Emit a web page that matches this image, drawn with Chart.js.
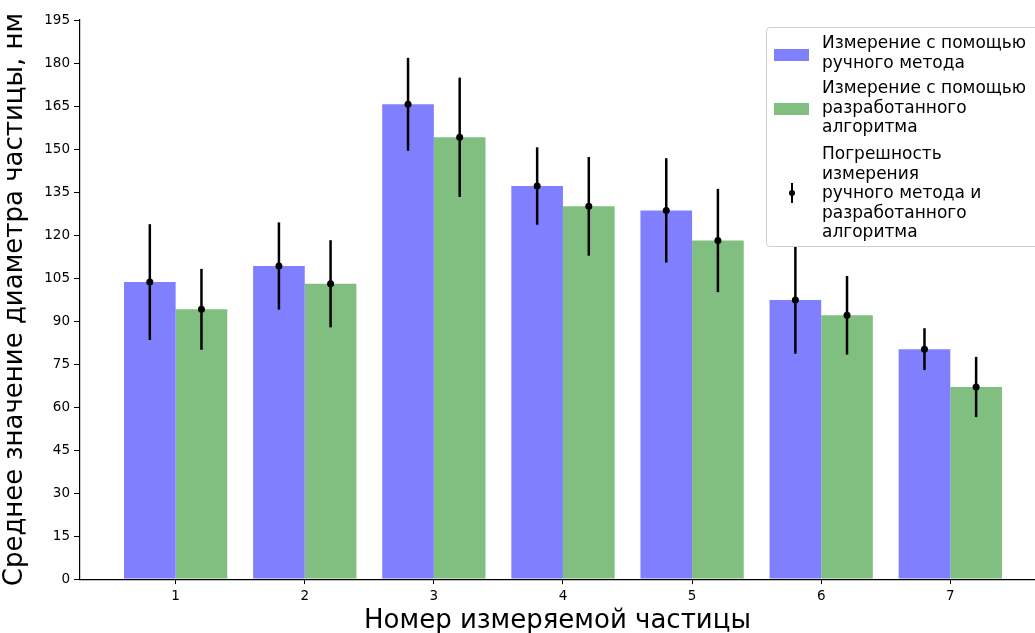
<!DOCTYPE html>
<html>
<head>
<meta charset="utf-8">
<script src="https://cdn.jsdelivr.net/npm/chart.js@4.4.0/dist/chart.umd.min.js"></script>
<style>
  html, body { margin: 0; padding: 0; background: #fff; }
  #wrap { position: relative; width: 1035px; height: 633px; overflow: hidden; }
  #legend {
    position: absolute; left: 766px; top: 27px; width: 290px; height: 220px;
    border: 1px solid #d0d0d0; border-radius: 4px; background: rgba(255,255,255,0.8);
    font-family: "DejaVu Sans", sans-serif; font-size: 17px; line-height: 19.5px; color: #000;
    box-sizing: border-box;
  }
  .patch { position: absolute; left: 7px; width: 35px; height: 12px; }
  .txt { position: absolute; left: 55px; white-space: nowrap; }
</style>
</head>
<body>
<div id="wrap">
  <canvas id="chart" width="1035" height="633"></canvas>
  <div id="legend">
    <div class="patch" style="top:21px;background:#8080ff"></div>
    <div class="txt" style="top:5px">Измерение с помощью<br>ручного метода</div>
    <div class="patch" style="top:75px;background:#80bf80"></div>
    <div class="txt" style="top:50px">Измерение с помощью<br>разработанного<br>алгоритма</div>
    <div class="txt" style="top:116px">Погрешность<br>измерения<br>ручного метода и<br>разработанного<br>алгоритма</div>
    <svg style="position:absolute;left:19px;top:155px" width="12" height="20">
      <line x1="6" y1="0" x2="6" y2="20" stroke="#000" stroke-width="2"/>
      <circle cx="6" cy="10" r="3" fill="#000"/>
    </svg>
  </div>
</div>
<script>
const particles = [1, 2, 3, 4, 5, 6, 7];
const manualMeans = [103.6, 109.2, 165.6, 137.1, 128.6, 97.3, 80.2];
const manualErr = [20.2, 15.2, 16.2, 13.5, 18.2, 18.7, 7.3];
const algoMeans = [94.1, 103.0, 154.1, 130.0, 118.1, 92.0, 67.0];
const algoErr = [14.1, 15.2, 20.8, 17.2, 18.0, 13.7, 10.5];
const yTicks = [0, 15, 30, 45, 60, 75, 90, 105, 120, 135, 150, 165, 180, 195];

// чёрные вертикальные погрешности с точкой в центре
const errorBars = {
  id: 'errorBars',
  afterDatasetsDraw(chart) {
    const ctx = chart.ctx;
    const y = chart.scales.y;
    chart.data.datasets.forEach((ds, i) => {
      const meta = chart.getDatasetMeta(i);
      meta.data.forEach((bar, j) => {
        const v = ds.data[j].y, e = ds.errors[j];
        ctx.save();
        ctx.strokeStyle = '#000';
        ctx.lineWidth = 2.5;
        ctx.beginPath();
        ctx.moveTo(bar.x, y.getPixelForValue(v + e));
        ctx.lineTo(bar.x, y.getPixelForValue(v - e));
        ctx.stroke();
        ctx.fillStyle = '#000';
        ctx.beginPath();
        ctx.arc(bar.x, y.getPixelForValue(v), 3.5, 0, Math.PI * 2);
        ctx.fill();
        ctx.restore();
      });
    });
  }
};

const font = { family: 'DejaVu Sans', size: 13.5 };

new Chart(document.getElementById('chart'), {
  type: 'bar',
  data: {
    datasets: [
      {
        label: 'Измерение с помощью ручного метода',
        data: particles.map((p, i) => ({ x: p, y: manualMeans[i] })),
        errors: manualErr,
        backgroundColor: '#8080ff'
      },
      {
        label: 'Измерение с помощью разработанного алгоритма',
        data: particles.map((p, i) => ({ x: p, y: algoMeans[i] })),
        errors: algoErr,
        backgroundColor: '#80bf80'
      }
    ]
  },
  options: {
    responsive: false,
    animation: false,
    categoryPercentage: 0.8,
    barPercentage: 1.0,
    layout: { padding: { top: 20, right: 0, left: 0, bottom: 0 } },
    plugins: { legend: { display: false }, tooltip: { enabled: false } },
    scales: {
      x: {
        type: 'linear',
        offset: false,
        min: 0.259,
        max: 7.656,
        afterBuildTicks: (axis) => { axis.ticks = particles.map(v => ({ value: v })); },
        ticks: { color: '#000', font: { family: 'DejaVu Sans', size: 13.5, lineHeight: 1.0 }, padding: 6 },
        grid: { offset: false, drawOnChartArea: false, color: '#000', tickLength: 5 },
        border: { color: '#000', width: 1.2 },
        title: { display: true, text: 'Номер измеряемой частицы', color: '#000', font: { family: 'DejaVu Sans', size: 26, lineHeight: 0.9 }, padding: { top: 0, bottom: 0 } }
      },
      y: {
        min: 0,
        max: 195,
        afterBuildTicks: (axis) => { axis.ticks = yTicks.map(v => ({ value: v })); },
        ticks: { color: '#000', font: font, padding: 4 },
        grid: { drawOnChartArea: false, color: '#000', tickLength: 6 },
        border: { color: '#000', width: 1.2 },
        title: { display: true, text: 'Среднее значение диаметра частицы, нм', color: '#000', font: { family: 'DejaVu Sans', size: 26 }, padding: { top: 0, bottom: 9 } }
      }
    }
  },
  plugins: [errorBars]
});
</script>
</body>
</html>
